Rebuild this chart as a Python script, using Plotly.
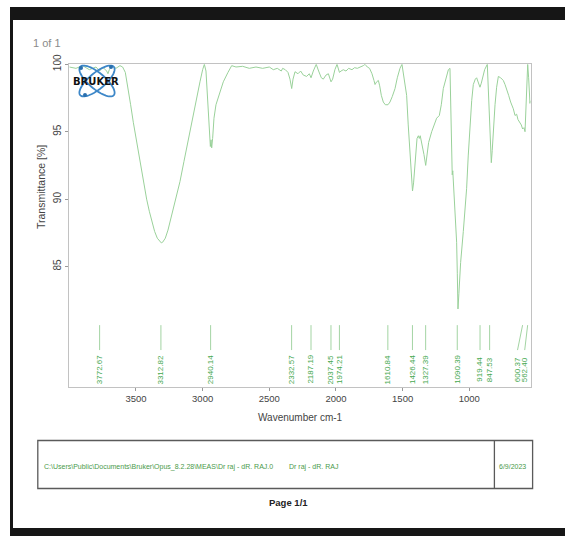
import numpy as np
import plotly.graph_objects as go

# ---------------- data ----------------
wavenumber = [
    4000, 3950, 3900, 3850, 3800, 3772, 3750, 3720, 3710, 3700, 3680, 3650, 3620, 3600,
    3580, 3560, 3540, 3520, 3500, 3480, 3460, 3440, 3420, 3400, 3380, 3360, 3340, 3320,
    3310, 3300, 3280, 3260, 3245, 3220, 3200, 3170, 3140, 3110, 3095, 3070, 3040, 3020,
    3000, 2987, 2975, 2960, 2950, 2942, 2937, 2932, 2925, 2915, 2900, 2894, 2870, 2845,
    2810, 2782, 2750, 2700, 2650, 2600, 2550, 2500, 2470, 2440, 2410,
    2400, 2380, 2360, 2345, 2332, 2322, 2307, 2285, 2265, 2245, 2220, 2200, 2187, 2170,
    2148, 2130, 2110, 2095, 2075, 2057, 2045, 2037, 2025, 2008, 1992, 1982, 1974, 1962,
    1945, 1925, 1905, 1880, 1860, 1840, 1815, 1795, 1782, 1765, 1748, 1730, 1715, 1707,
    1695, 1682, 1672, 1660, 1645, 1630, 1610, 1595, 1578, 1557, 1540, 1520, 1505,
    1490, 1480, 1470, 1458, 1445, 1435, 1426, 1418, 1405, 1392, 1382, 1375, 1368, 1360,
    1350, 1340, 1327, 1318, 1305, 1282, 1260, 1245, 1225, 1210, 1195, 1175, 1157, 1145,
    1140, 1135, 1132, 1128, 1124, 1120, 1107, 1095, 1090, 1085, 1078, 1065, 1045, 1030,
    1020, 1008, 995, 982, 970, 955, 945, 930, 920, 910, 900, 885, 865, 857, 850, 840,
    835, 828, 818, 807, 795, 782, 765, 745, 732, 720, 705, 690, 682, 670, 657, 645, 635,
    620, 610, 600, 590, 582, 575, 568, 562, 555, 550, 545, 541,
]
transmittance = [
    99.8, 99.7, 99.9, 99.6, 99.8, 99.5, 99.8, 99.5, 99.3, 99.6, 99.9, 99.7, 99.9, 99.8,
    99.4, 98.3, 97.0, 95.7, 94.5, 93.3, 92.1, 91.0, 90.0, 89.1, 88.3, 87.6, 87.1, 86.8,
    86.75, 86.8, 87.1, 87.7, 88.3, 89.3, 90.2, 91.3, 92.8, 94.3, 95.0, 96.4, 97.8, 98.7,
    99.6, 100.0, 99.5, 97.0, 94.5, 93.9, 94.4, 93.8, 94.5, 96.0, 97.0, 97.2, 98.0, 98.7,
    99.4, 99.9, 99.8, 99.85, 99.7, 99.8, 99.7, 99.8, 99.6, 99.7, 99.5,
    99.7, 99.6, 99.4, 98.9, 98.2, 98.9, 99.45, 99.3, 99.5, 99.2, 99.1, 99.3, 99.0, 99.5,
    100.0, 99.5, 99.0, 98.9, 99.2, 99.3, 98.9, 98.7, 98.9, 99.6, 100.0, 99.7, 99.4, 99.5,
    99.6, 99.5, 99.7, 99.6, 99.75, 99.7, 99.8, 99.9, 100.0, 99.8, 99.7, 99.3, 98.8, 98.5,
    98.7, 98.8, 98.4, 97.7, 97.2, 97.0, 97.0, 97.2, 97.6, 98.2, 99.0, 99.7, 100.0,
    99.0, 98.5, 97.7, 95.5, 93.3, 91.6, 90.6, 91.2, 93.0, 94.5, 94.7, 94.5, 94.7, 94.3,
    94.0, 93.3, 92.5, 93.2, 94.2, 95.0, 95.6, 96.0, 96.2, 97.0, 98.2, 99.0, 99.6, 99.7,
    97.0, 93.5, 92.0, 91.8, 92.1, 91.3, 89.6, 86.8, 84.5, 81.85, 83.0, 85.3, 87.6, 89.4,
    90.8, 93.2, 95.7, 97.3, 98.5, 98.9, 99.0, 98.6, 98.3, 98.6, 99.0, 99.6, 100.0, 97.8, 95.7, 93.5,
    92.7, 93.6, 95.5, 97.0, 98.3, 99.1, 99.0, 98.8, 98.5, 98.2, 97.7, 97.2, 97.0, 96.7, 96.2, 96.3, 95.9,
    95.7, 95.5, 95.2, 95.3, 95.0, 96.5, 98.5, 100.0, 99.0, 97.5, 97.1, 97.3,
]

peak_wn = [3772.67, 3312.82, 2940.14, 2332.57, 2187.19, 2037.45, 1974.21, 1610.84,
           1426.44, 1327.39, 1090.39, 919.44, 847.53, 600.37, 562.40]
peak_labels = ["3772.67", "3312.82", "2940.14", "2332.57", "2187.19", "2037.45", "1974.21",
               "1610.84", "1426.44", "1327.39", "1090.39", "919.44", "847.53", "600.37", "562.40"]

x_ticks = [3500, 3000, 2500, 2000, 1500, 1000]
y_ticks = [85, 90, 95, 100]

footer_path = "C:\\Users\\Public\\Documents\\Bruker\\Opus_8.2.28\\MEAS\\Dr raj - dR. RAJ.0"
footer_name = "Dr raj - dR. RAJ"
footer_date = "6/9/2023"

# ---------------- layout helpers ----------------
W, H = 565, 536
def px(x):
    return x / W
def py(y):
    return 1 - y / H

FONT = "Liberation Sans, Arial, sans-serif"
SPEC_GREEN = "#9ad19a"
LABEL_GREEN = "#45a84f"

# label offsets (crowded labels at the right end are pushed left with slanted leader lines)
label_shift = {"600.37": 38, "562.40": 22}
MARK_TOP, MARK_BOT, LABEL_Y = 80.65, 78.8, 77.35

fig = go.Figure()

fig.add_trace(go.Scatter(x=wavenumber, y=transmittance, mode="lines",
                         line=dict(color=SPEC_GREEN, width=1), hoverinfo="skip",
                         showlegend=False))

mx, my = [], []
for wn, lab in zip(peak_wn, peak_labels):
    lw = wn + label_shift.get(lab, 0)
    mx += [wn, lw, None]
    my += [MARK_TOP, MARK_BOT, None]
fig.add_trace(go.Scatter(x=mx, y=my, mode="lines", line=dict(color="#a3d4a3", width=1),
                         hoverinfo="skip", showlegend=False))

annotations = []
for wn, lab in zip(peak_wn, peak_labels):
    lw = wn + label_shift.get(lab, 0)
    annotations.append(dict(x=lw, y=LABEL_Y, xref="x", yref="y", text=lab, showarrow=False,
                            textangle=-90, xanchor="center", yanchor="middle",
                            font=dict(family=FONT, size=8, color=LABEL_GREEN)))

def page_text(x, y, text, size, color, xanchor="center", angle=0, family=FONT):
    return dict(x=px(x), y=py(y), xref="paper", yref="paper", text=text, showarrow=False,
                textangle=angle, xanchor=xanchor, yanchor="middle",
                font=dict(family=family, size=size, color=color))

annotations += [
    page_text(41, 187, "Transmittance [%]", 10.5, "#444", angle=-90),
    page_text(300, 417, "Wavenumber cm-1", 10, "#444"),
    page_text(31, 43, "1 of 1", 11, "#8a8a8a", xanchor="left"),
    page_text(42, 466.5, footer_path, 7, "#4a9a4a", xanchor="left"),
    page_text(287, 466.5, footer_name, 7, "#4a9a4a", xanchor="left"),
    page_text(496.5, 466.5, footer_date, 7, "#4a9a4a", xanchor="left"),
    page_text(288, 502.5, "<b>Page 1/1</b>", 9.5, "#222"),
    page_text(96, 81, "<b>BRUKER</b>", 10, "#111", family="DejaVu Sans, sans-serif"),
]

shapes = []
# black scan frame
for x0, y0, x1, y1 in [(10, 7, 565, 20), (10, 7, 13, 536), (10, 528, 565, 536)]:
    shapes.append(dict(type="rect", xref="paper", yref="paper", x0=px(x0), x1=px(x1),
                       y0=py(y1), y1=py(y0), fillcolor="#161616", line=dict(width=0)))
# footer box
shapes.append(dict(type="rect", xref="paper", yref="paper", x0=px(37.8), x1=px(532.6),
                   y0=py(488.5), y1=py(440.5), line=dict(color="#5a5a5a", width=1.3)))
shapes.append(dict(type="line", xref="paper", yref="paper", x0=px(494.4), x1=px(494.4),
                   y0=py(488.5), y1=py(440.5), line=dict(color="#5a5a5a", width=1.3)))

# logo swirl (decorative)
cx, cy = 97, 81
t = np.linspace(0, 2 * np.pi, 60)
for ang in (np.deg2rad(40), np.deg2rad(-40)):
    ex = 22 * np.cos(t)
    ey = 8 * np.sin(t)
    xs = cx + ex * np.cos(ang) - ey * np.sin(ang)
    ys = cy + ex * np.sin(ang) + ey * np.cos(ang)
    path = "M " + " L ".join(f"{px(a):.5f},{py(b):.5f}" for a, b in zip(xs, ys)) + " Z"
    shapes.append(dict(type="path", xref="paper", yref="paper", path=path,
                       line=dict(color="#3d87c8", width=1.8)))
for dx, dy in [(85, 95), (111, 67), (81, 68)]:
    shapes.append(dict(type="circle", xref="paper", yref="paper", x0=px(dx - 2), x1=px(dx + 2),
                       y0=py(dy + 2), y1=py(dy - 2), fillcolor="#2a6fae", line=dict(width=0)))

fig.update_layout(
    width=W, height=H, margin=dict(l=0, r=0, t=0, b=0, pad=0, autoexpand=False),
    paper_bgcolor="white", plot_bgcolor="white", showlegend=False,
    xaxis=dict(domain=[px(69.3), px(530.5)], range=[4000, 541], tickvals=x_ticks,
               automargin=False,
               ticks="outside", ticklen=3, tickcolor="#999", showline=True, linecolor="#c2c2c2",
               linewidth=1, mirror=True, showgrid=False, zeroline=False,
               tickfont=dict(family=FONT, size=9.5, color="#444")),
    yaxis=dict(domain=[py(387), py(64.3)], range=[76.06, 100], tickvals=y_ticks,
               automargin=False,
               tickangle=-90, ticks="outside", ticklen=3, tickcolor="#999", showline=True,
               linecolor="#c2c2c2", linewidth=1, mirror=True, showgrid=False, zeroline=False,
               tickfont=dict(family=FONT, size=10, color="#444")),
    annotations=annotations, shapes=shapes,
)

fig.write_html("out.html")
